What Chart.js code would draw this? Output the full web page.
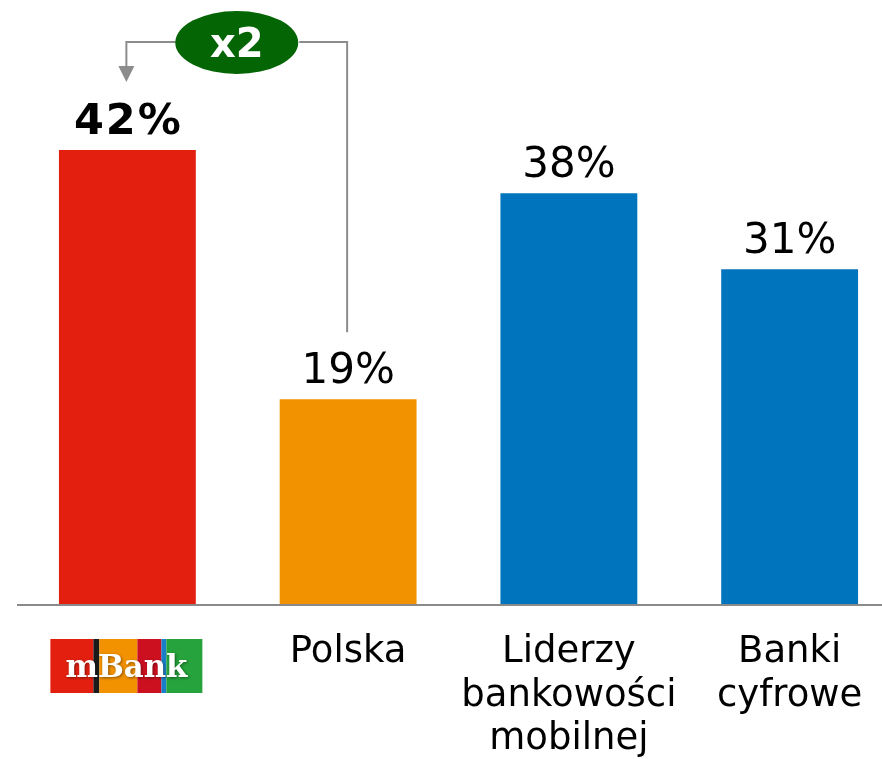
<!DOCTYPE html>
<html>
<head>
<meta charset="utf-8">
<script src="https://cdn.jsdelivr.net/npm/chart.js@4"></script>
<style>
html,body{margin:0;padding:0;background:#fff;overflow:hidden;width:882px;height:759px;}
#wrap{width:900px;height:759px;}
</style>
</head>
<body>
<div id="wrap"><canvas id="c" width="900" height="759"></canvas></div>
<script>
const categories = ["mBank", "Polska", ["Liderzy", "bankowości", "mobilnej"], ["Banki", "cyfrowe"]];
const values = [42, 19, 38, 31];
const valueLabels = ["42%", "19%", "38%", "31%"];
const barColors = ["#e3200f", "#f39200", "#0075bd", "#0075bd"];
const multiplierLabel = "x2";
const logoText = "mBank";

const FONT = "'DejaVu Sans', Verdana, sans-serif";

const overlay = {
  id: 'overlay',
  afterDraw(chart) {
    const ctx = chart.ctx;
    const xs = chart.scales.x;
    const area = chart.chartArea;
    const meta = chart.getDatasetMeta(0);
    ctx.save();
    // axis line
    ctx.strokeStyle = '#8a8a8a';
    ctx.lineWidth = 2;
    ctx.beginPath();
    ctx.moveTo(area.left, area.bottom);
    ctx.lineTo(chart.width, area.bottom);
    ctx.stroke();

    // value labels
    ctx.textAlign = 'center';
    ctx.textBaseline = 'alphabetic';
    ctx.fillStyle = '#000';
    meta.data.forEach((bar, i) => {
      if (i === 0) {
        ctx.font = 'bold 43px ' + FONT;
        ctx.letterSpacing = '2px';
        ctx.fillText(valueLabels[i], bar.x + 1, bar.y - 16);
        ctx.letterSpacing = '0px';
      } else {
        ctx.font = '42px ' + FONT;
        ctx.fillText(valueLabels[i], bar.x, bar.y - 16);
      }
    });

    // category labels
    ctx.font = '37px ' + FONT;
    categories.forEach((c, i) => {
      if (i === 0) return;
      const lines = Array.isArray(c) ? c : [c];
      const x = xs.getPixelForValue(i);
      lines.forEach((ln, j) => ctx.fillText(ln, x, area.bottom + 57 + j * 43.5));
    });

    // mBank logo
    const lx = xs.getPixelForValue(0) - 77, ly = area.bottom + 34, lw = 152, lh = 54;
    const stripes = [
      [0, 43, '#e3200f'], [43, 6, '#1a1a1a'], [49, 38, '#f39200'],
      [87, 24, '#cc1020'], [111, 5, '#1a7fc8'], [116, 36, '#26a33c']
    ];
    stripes.forEach(s => { ctx.fillStyle = s[2]; ctx.fillRect(lx + s[0], ly, s[1], lh); });
    ctx.save();
    ctx.shadowColor = 'rgba(0,0,0,0.45)';
    ctx.shadowBlur = 3;
    ctx.shadowOffsetX = 1;
    ctx.shadowOffsetY = 1;
    ctx.fillStyle = '#fff';
    ctx.font = "bold 31px 'DejaVu Serif', serif";
    ctx.fillText(logoText, lx + 76, ly + 38, 122);
    ctx.restore();

    // x2 connector
    const b0 = meta.data[0], b1 = meta.data[1];
    const by = area.top + 42;
    const cx = (b0.x + b1.x) / 2;
    const rx = 61.5, ry = 31.5;
    ctx.strokeStyle = '#8c8c8c';
    ctx.lineWidth = 2;
    ctx.beginPath();
    ctx.moveTo(cx - rx, by);
    ctx.lineTo(b0.x - 1, by);
    ctx.lineTo(b0.x - 1, b0.y - 82);
    ctx.stroke();
    ctx.fillStyle = '#8c8c8c';
    ctx.beginPath();
    ctx.moveTo(b0.x - 9, b0.y - 84);
    ctx.lineTo(b0.x + 7, b0.y - 84);
    ctx.lineTo(b0.x - 1, b0.y - 68);
    ctx.closePath();
    ctx.fill();
    ctx.beginPath();
    ctx.moveTo(cx + rx, by);
    ctx.lineTo(b1.x - 1, by);
    ctx.lineTo(b1.x - 1, b1.y - 67);
    ctx.stroke();
    ctx.fillStyle = '#046504';
    ctx.beginPath();
    ctx.ellipse(cx - 1, by + 0.5, rx, ry, 0, 0, Math.PI * 2);
    ctx.fill();
    ctx.fillStyle = '#fff';
    ctx.font = 'bold 40px ' + FONT;
    ctx.fillText(multiplierLabel, cx - 1, by + 15);
    ctx.restore();
  }
};

new Chart(document.getElementById('c'), {
  type: 'bar',
  data: {
    labels: categories,
    datasets: [{
      data: values,
      backgroundColor: barColors,
      borderWidth: 0,
      barPercentage: 0.62,
      categoryPercentage: 1
    }]
  },
  options: {
    responsive: false,
    animation: false,
    devicePixelRatio: 1,
    layout: { padding: { left: 17, right: 0, top: 0, bottom: 154 } },
    plugins: { legend: { display: false }, tooltip: { enabled: false } },
    scales: {
      x: { display: false },
      y: { display: false, min: 0, max: 55.85 }
    }
  },
  plugins: [overlay]
});
</script>
</body>
</html>
